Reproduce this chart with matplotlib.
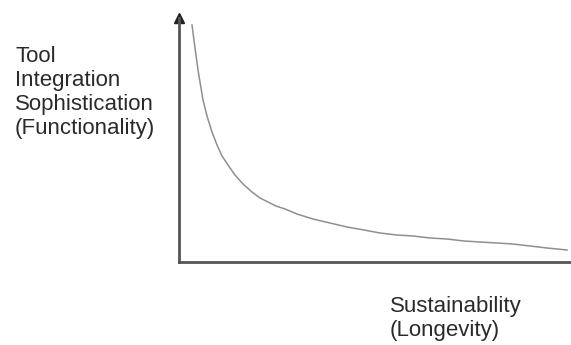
# IMPORT LIBRARY
import matplotlib
matplotlib.use("Agg")
import matplotlib.pyplot as plt


# DATA
# sustainability (x) vs functionality (y), arbitrary units
longevity = [13, 16, 19, 24, 28, 33, 38, 43, 49, 56, 64, 73, 81, 89, 97, 106,
             118, 134, 151, 168, 185, 201, 218, 234, 251, 268, 285, 301, 318,
             334, 351, 368, 388]
functionality = [237, 214, 192, 162, 146, 130, 117, 106, 97, 87, 78, 70, 64,
                 60, 56, 53, 48, 43, 39, 35, 32, 29, 27, 26, 24, 23, 21, 20,
                 19, 18, 16, 14, 12]

y_label_lines = ["Tool", "Integration", "Sophistication", "(Functionality)"]
x_label_lines = ["Sustainability", "(Longevity)"]


# FUNCTIONS
def execute():
    plt.rcParams["font.family"] = ["Liberation Sans", "DejaVu Sans"]

    fig = plt.figure(figsize=(5.71, 3.45), dpi=100)
    ax = fig.add_axes([179 / 571, 83 / 345, 392 / 571, 244 / 345])

    ax.plot(longevity, functionality, color="#8f8f8f", linewidth=1.1)

    ax.set_xlim(0, 392)
    ax.set_ylim(0, 244)

    # hanya sumbu kiri dan bawah
    for side in ["top", "right"]:
        ax.spines[side].set_visible(False)
    for side in ["left", "bottom"]:
        ax.spines[side].set_color("#555555")
        ax.spines[side].set_linewidth(2)
    ax.set_xticks([])
    ax.set_yticks([])

    # panah di ujung sumbu y
    ax.plot([0], [1], marker="^", markersize=7, color="#222222",
            transform=ax.transAxes, clip_on=False)

    fig.text(15 / 571, 1 - 46 / 345, "\n".join(y_label_lines),
             fontsize=16, color="#2a2a2a", va="top", ha="left", linespacing=1.18)
    fig.text(390 / 571, 1 - 296 / 345, "\n".join(x_label_lines),
             fontsize=16, color="#2a2a2a", va="top", ha="left", linespacing=1.18)

    fig.savefig("out.png", dpi=100)


# EXECUTE
if __name__ == "__main__":
    execute()
